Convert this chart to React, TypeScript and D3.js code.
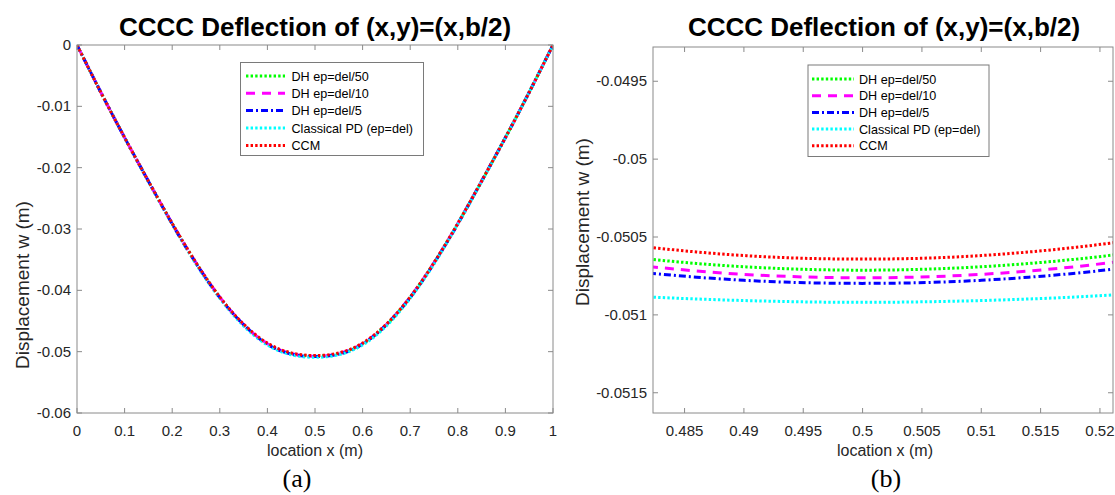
import React from "react";
import * as d3 from "d3";

// ---------- data ----------
const seriesNames = ["DH ep=del/50", "DH ep=del/10", "DH ep=del/5", "Classical PD (ep=del)", "CCM"];
const seriesColors = ["#00ff00", "#ff00ff", "#0000ff", "#00ffff", "#ff0000"];

// panel (a): full span
const xFull = [0, 0.05, 0.1, 0.15, 0.2, 0.25, 0.3, 0.35, 0.4, 0.45, 0.5, 0.55, 0.6, 0.65, 0.7, 0.75, 0.8, 0.85, 0.9, 0.95, 1];
const fullDH50 = [0, -0.0077, -0.0151, -0.0222, -0.0291, -0.0355, -0.0411, -0.0456, -0.0487, -0.0503, -0.05071, -0.0503, -0.0487, -0.0456, -0.0411, -0.0355, -0.0291, -0.0222, -0.0151, -0.0077, 0];
const fullDH10 = [0, -0.0077, -0.0151, -0.0222, -0.0291, -0.0355, -0.0411, -0.0456, -0.0487, -0.0503, -0.05076, -0.0503, -0.0487, -0.0456, -0.0411, -0.0355, -0.0291, -0.0222, -0.0151, -0.0077, 0];
const fullDH5 = [0, -0.0077, -0.0151, -0.0222, -0.0292, -0.0356, -0.0412, -0.0456, -0.0488, -0.0504, -0.0508, -0.0504, -0.0488, -0.0456, -0.0412, -0.0356, -0.0292, -0.0222, -0.0151, -0.0077, 0];
const fullPD = [0, -0.0077, -0.0151, -0.0223, -0.0292, -0.0357, -0.0413, -0.0458, -0.0489, -0.0505, -0.05092, -0.0505, -0.0489, -0.0458, -0.0413, -0.0357, -0.0292, -0.0223, -0.0151, -0.0077, 0];
const fullCCM = [0, -0.0077, -0.0151, -0.0222, -0.0291, -0.0355, -0.0411, -0.0455, -0.0486, -0.0502, -0.05064, -0.0502, -0.0486, -0.0455, -0.0411, -0.0355, -0.0291, -0.0222, -0.0151, -0.0077, 0];

// panel (b): zoom near the centre
const xZoom = [0.482, 0.486, 0.49, 0.494, 0.498, 0.502, 0.506, 0.51, 0.514, 0.518, 0.522];
const zoomDH50 = [-0.050642, -0.05067, -0.050691, -0.050705, -0.050712, -0.050712, -0.050705, -0.050691, -0.05067, -0.050642, -0.050608];
const zoomDH10 = [-0.05069, -0.050718, -0.05074, -0.050754, -0.050761, -0.050761, -0.050754, -0.05074, -0.050718, -0.05069, -0.050654];
const zoomDH5 = [-0.050732, -0.050758, -0.050778, -0.050791, -0.050797, -0.050797, -0.050791, -0.050778, -0.050758, -0.050732, -0.050699];
const zoomPD = [-0.050885, -0.050898, -0.050908, -0.050915, -0.050919, -0.050919, -0.050915, -0.050908, -0.050898, -0.050885, -0.050868];
const zoomCCM = [-0.050566, -0.050596, -0.050619, -0.050634, -0.050641, -0.050641, -0.050634, -0.050619, -0.050596, -0.050566, -0.050528];

// ticks
const xTicksA = [0, 0.1, 0.2, 0.3, 0.4, 0.5, 0.6, 0.7, 0.8, 0.9, 1];
const xTickLabelsA = ["0", "0.1", "0.2", "0.3", "0.4", "0.5", "0.6", "0.7", "0.8", "0.9", "1"];
const yTicksA = [0, -0.01, -0.02, -0.03, -0.04, -0.05, -0.06];
const yTickLabelsA = ["0", "-0.01", "-0.02", "-0.03", "-0.04", "-0.05", "-0.06"];
const xTicksB = [0.485, 0.49, 0.495, 0.5, 0.505, 0.51, 0.515, 0.52];
const xTickLabelsB = ["0.485", "0.49", "0.495", "0.5", "0.505", "0.51", "0.515", "0.52"];
const yTicksB = [-0.0495, -0.05, -0.0505, -0.051, -0.0515];
const yTickLabelsB = ["-0.0495", "-0.05", "-0.0505", "-0.051", "-0.0515"];

const titleText = "CCCC Deflection of (x,y)=(x,b/2)";
const xLabelText = "location x (m)";
const yLabelText = "Displacement w (m)";

// ---------- styling ----------
const dashes = ["2.4 2.2", "9 7", "7 3 2 3", "2.4 2.2", "2.4 2.2"];
const FONT = "Arial, 'Liberation Sans', Helvetica, sans-serif";
const AXIS = "#8a8a8a";
const TXT = "#262626";

type PanelProps = {
  id: string;
  left: number; right: number; top: number; bottom: number;
  xDomain: [number, number]; yDomain: [number, number];
  xs: number[]; ys: number[][];
  xTicks: number[]; xTickLabels: string[];
  yTicks: number[]; yTickLabels: string[];
  titleX: number; ylabX: number; ylabY: number;
  xlabX: number; capX: number; caption: string;
  legend: { x0: number; x1: number; y0: number; y1: number; lx0: number; lx1: number; tx: number; rows: number[] };
};

function Panel(p: PanelProps) {
  const x = d3.scaleLinear().domain(p.xDomain).range([p.left, p.right]);
  const y = d3.scaleLinear().domain(p.yDomain).range([p.bottom, p.top]);
  const line = d3.line<number>()
    .x((_, i) => x(p.xs[i]))
    .y((v) => y(v))
    .curve(d3.curveNatural);
  const tl = 5;
  const order = [0, 1, 2, 3, 4];
  return (
    <g>
      <defs>
        <clipPath id={p.id}>
          <rect x={p.left} y={p.top} width={p.right - p.left} height={p.bottom - p.top} />
        </clipPath>
      </defs>
      <text x={p.titleX} y={36} textAnchor="middle" fontFamily={FONT} fontWeight="bold" fontSize={26} fill="#000">{titleText}</text>
      {/* series */}
      <g clipPath={`url(#${p.id})`}>
        {order.map((k) => (
          <path key={k} d={line(p.ys[k]) || ""} fill="none" stroke={seriesColors[k]} strokeWidth={3}
            strokeDasharray={dashes[k]} />
        ))}
      </g>
      {/* box */}
      <rect x={p.left} y={p.top} width={p.right - p.left} height={p.bottom - p.top} fill="none" stroke={AXIS} strokeWidth={1} />
      {/* x ticks */}
      {p.xTicks.map((t, i) => (
        <g key={"xt" + i}>
          <line x1={x(t)} x2={x(t)} y1={p.bottom} y2={p.bottom - tl} stroke={AXIS} />
          <line x1={x(t)} x2={x(t)} y1={p.top} y2={p.top + tl} stroke={AXIS} />
          <text x={x(t)} y={p.bottom + 23} textAnchor="middle" fontFamily={FONT} fontSize={15} fill={TXT}>{p.xTickLabels[i]}</text>
        </g>
      ))}
      {/* y ticks */}
      {p.yTicks.map((t, i) => (
        <g key={"yt" + i}>
          <line x1={p.left} x2={p.left + tl} y1={y(t)} y2={y(t)} stroke={AXIS} />
          <line x1={p.right} x2={p.right - tl} y1={y(t)} y2={y(t)} stroke={AXIS} />
          <text x={p.left - 6} y={y(t) + 5} textAnchor="end" fontFamily={FONT} fontSize={15} fill={TXT}>{p.yTickLabels[i]}</text>
        </g>
      ))}
      {/* labels */}
      <text x={p.xlabX} y={456} textAnchor="middle" fontFamily={FONT} fontSize={16} fill={TXT}>{xLabelText}</text>
      <text transform={`translate(${p.ylabX},${p.ylabY}) rotate(-90)`} textAnchor="middle" fontFamily={FONT} fontSize={19} fill={TXT}>{yLabelText}</text>
      <text x={p.capX} y={487} textAnchor="middle" fontFamily="'Times New Roman', 'Liberation Serif', serif" fontSize={26} fill="#000">{p.caption}</text>
      {/* legend */}
      <rect x={p.legend.x0} y={p.legend.y0} width={p.legend.x1 - p.legend.x0} height={p.legend.y1 - p.legend.y0} fill="#fff" stroke="#7a7a7a" strokeWidth={1} />
      {seriesNames.map((n, i) => (
        <g key={"lg" + i}>
          <line x1={p.legend.lx0} x2={p.legend.lx1} y1={p.legend.rows[i]} y2={p.legend.rows[i]} stroke={seriesColors[i]} strokeWidth={3} strokeDasharray={dashes[i]} />
          <text x={p.legend.tx} y={p.legend.rows[i] + 4.5} fontFamily={FONT} fontSize={12.6} fill="#000">{n}</text>
        </g>
      ))}
    </g>
  );
}

export default function App() {
  return (
    <svg width={1115} height={495} style={{ position: "absolute", left: 0, top: 0, background: "#fff" }}>
      <rect x={0} y={0} width={1115} height={495} fill="#fff" />
      <Panel
        id="clipA" left={77} right={553} top={45} bottom={413}
        xDomain={[0, 1]} yDomain={[-0.06, 0]}
        xs={xFull} ys={[fullDH50, fullDH10, fullDH5, fullPD, fullCCM]}
        xTicks={xTicksA} xTickLabels={xTickLabelsA} yTicks={yTicksA} yTickLabels={yTickLabelsA}
        titleX={315} ylabX={29} ylabY={285} xlabX={315} capX={297} caption="(a)"
        legend={{ x0: 240.5, x1: 423.5, y0: 62.5, y1: 155.5, lx0: 246, lx1: 285, tx: 291.5, rows: [76, 93.3, 110.6, 128, 145.5] }}
      />
      <Panel
        id="clipB" left={653} right={1113} top={47} bottom={413}
        xDomain={[0.48234, 0.5211]} yDomain={[-0.05163, -0.04928]}
        xs={xZoom} ys={[zoomDH50, zoomDH10, zoomDH5, zoomPD, zoomCCM]}
        xTicks={xTicksB} xTickLabels={xTickLabelsB} yTicks={yTicksB} yTickLabels={yTickLabelsB}
        titleX={884} ylabX={589} ylabY={222} xlabX={885} capX={886} caption="(b)"
        legend={{ x0: 808, x1: 989, y0: 65, y1: 156.5, lx0: 812, lx1: 854, tx: 859, rows: [79, 95.7, 112.4, 129.1, 145.8] }}
      />
    </svg>
  );
}
